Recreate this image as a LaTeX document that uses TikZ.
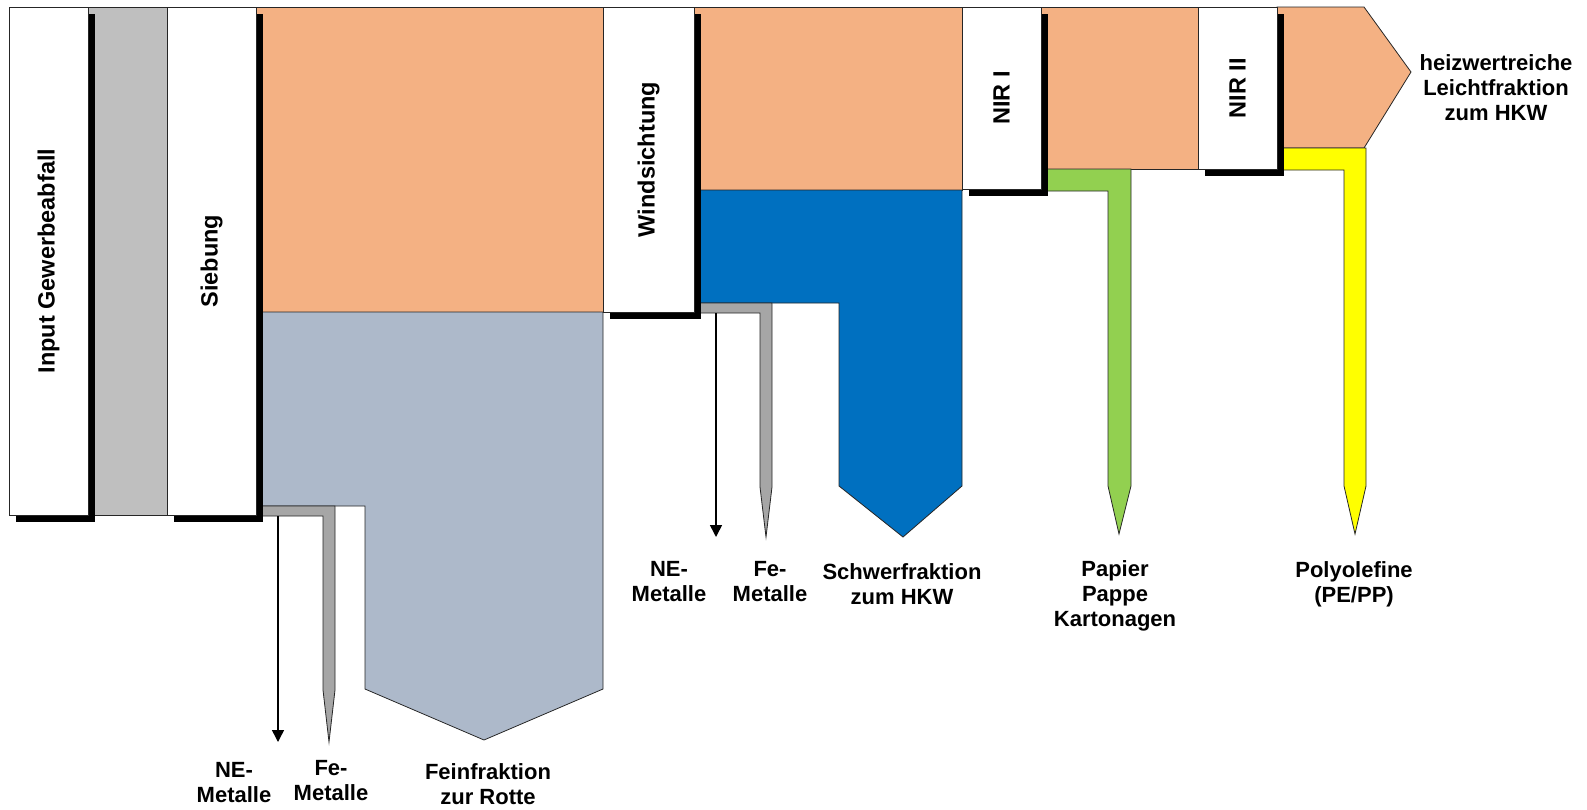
\documentclass[tikz,border=0pt]{standalone}
\usepackage{fontspec}
\setmainfont{Liberation Sans}
\usetikzlibrary{arrows.meta,shadows}
\definecolor{orangeflow}{RGB}{244,177,131}
\definecolor{bluegrayflow}{RGB}{173,185,202}
\definecolor{blueflow}{RGB}{0,112,192}
\definecolor{grayband}{RGB}{191,191,191}
\definecolor{metalgray}{RGB}{166,166,166}
\definecolor{greenflow}{RGB}{146,208,80}
\definecolor{yellowflow}{RGB}{255,255,0}
\begin{document}
\begin{tikzpicture}[x=1pt,y=-1pt,
  flow/.style={draw=black!85, line width=0.8pt, line join=miter},
  procbox/.style={draw=black!85, fill=white, line width=0.8pt, inner sep=0pt, outer sep=0pt,
    drop shadow={shadow xshift=7pt, shadow yshift=-7pt, opacity=1, fill=black}},
  lbl/.style={font=\fontsize{22}{25}\selectfont\bfseries, align=center, inner sep=0pt},
  boxlbl/.style={font=\fontsize{23.5}{26}\selectfont\bfseries, rotate=90, inner sep=0pt},
  nearrow/.style={line width=1.5pt, -{Triangle[width=12pt,length=12pt]}}]
\useasboundingbox (0,0) rectangle (1587,809);

% ---------- flows ----------
\filldraw[flow, fill=grayband] (88,7) rectangle (167,515);
\filldraw[flow, fill=orangeflow] (256,7) rectangle (603,312);
\filldraw[flow, fill=bluegrayflow] (256,312) -- (603,312) -- (603,689) -- (484,740) -- (365,689) -- (365,506) -- (256,506) -- cycle;
\filldraw[flow, fill=metalgray] (256,506) -- (335,506) -- (335,690) -- (329,742) -- (323,690) -- (323,516) -- (256,516) -- cycle;

\filldraw[flow, fill=orangeflow] (694,7) rectangle (962,190);
\filldraw[flow, fill=blueflow] (694,190) -- (962,190) -- (962,486) -- (903,537) -- (839,486) -- (839,303) -- (694,303) -- cycle;
\filldraw[flow, fill=metalgray] (694,303) -- (772,303) -- (772,487) -- (766,537) -- (760,487) -- (760,313) -- (694,313) -- cycle;

\filldraw[flow, fill=orangeflow] (1041,7) rectangle (1198,169);
\filldraw[flow, fill=greenflow] (1041,169) -- (1131,169) -- (1131,486) -- (1119,534) -- (1108,486) -- (1108,191) -- (1041,191) -- cycle;

\filldraw[flow, fill=orangeflow] (1277,7) -- (1364,7) -- (1411,72) -- (1364,148) -- (1277,148) -- cycle;
\filldraw[flow, fill=yellowflow] (1277,148) -- (1366,148) -- (1366,486) -- (1355,534) -- (1344,486) -- (1344,170) -- (1277,170) -- cycle;

% ---------- NE-metal arrows ----------
\coordinate (neAs) at (278,516);
\coordinate (neAe) at (278,742);
\draw[nearrow] (neAs) -- (neAe);
\coordinate (neBs) at (716,313);
\coordinate (neBe) at (716,537);
\draw[nearrow] (neBs) -- (neBe);

% ---------- process boxes ----------
\node[procbox, minimum width=79pt, minimum height=508pt] (input) at (48.5,261) {};
\node[procbox, minimum width=89pt, minimum height=508pt] (sieb) at (211.5,261) {};
\node[procbox, minimum width=91pt, minimum height=305pt] (wind) at (648.5,159.5) {};
\node[procbox, minimum width=79pt, minimum height=182pt] (nir1) at (1001.5,98) {};
\node[procbox, minimum width=79pt, minimum height=162pt] (nir2) at (1237.5,88) {};

\node[boxlbl] (linput) at (input.center) {Input Gewerbeabfall};
\node[boxlbl] (lsieb) at (sieb.center) {Siebung};
\node[boxlbl] (lwind) at (wind.center) {Windsichtung};
\node[boxlbl] (lnir1) at (nir1.center) {NIR I};
\node[boxlbl] (lnir2) at (nir2.center) {NIR II};

% ---------- output labels ----------
\node[lbl] (lne1) at (234,783) {NE-\\Metalle};
\node[lbl] (lfe1) at (331,781) {Fe-\\Metalle};
\node[lbl] (lfein) at (488,784) {Feinfraktion\\zur Rotte};
\node[lbl] (lne2) at (669,582) {NE-\\Metalle};
\node[lbl] (lfe2) at (770,582) {Fe-\\Metalle};
\node[lbl] (lschwer) at (902,584) {Schwerfraktion\\zum HKW};
\node[lbl] (lpapier) at (1115,596) {Papier\\Pappe\\Kartonagen};
\node[lbl] (lpoly) at (1354,584) {Polyolefine\\(PE/PP)};
\node[lbl] (lheiz) at (1496,88) {heizwertreiche\\Leichtfraktion\\zum HKW};
\end{tikzpicture}
\end{document}
